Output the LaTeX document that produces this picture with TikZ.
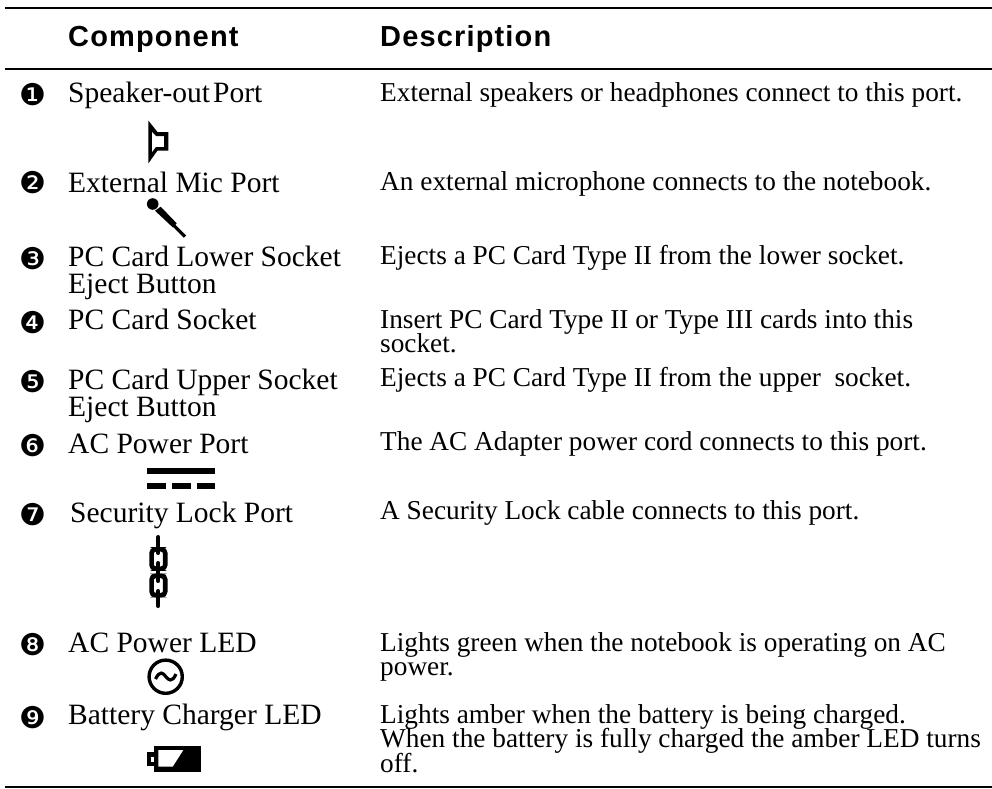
\documentclass[tikz,border=0pt]{standalone}
\usepackage{fontspec}
\setmainfont{Liberation Serif}
\newfontfamily\headfont[LetterSpace=4]{Liberation Sans}
\newfontfamily\numfont{DejaVu Sans}
\tikzset{
 x=1pt,y=-1pt,
 txt/.style={anchor=base west,inner sep=0pt,font=\fontsize{29.5}{30}\selectfont},
 dsc/.style={anchor=base west,inner sep=0pt,font=\fontsize{27.3}{30}\selectfont},
 head/.style={anchor=base west,inner sep=0pt,font=\headfont\bfseries\fontsize{29}{32}\selectfont},
 num/.style={anchor=center,inner sep=0pt,font=\numfont\fontsize{30}{32}\selectfont},
 rulel/.style={line width=2pt,black},
 chainl/.style={line width=4pt,black,line cap=round},
 chainc/.style={line width=4.6pt,black,rounded corners=3.5pt},
}
\begin{document}
\begin{tikzpicture}
\useasboundingbox (0,0) rectangle (992,788);
\fill[white] (0,0) rectangle (992,788);
\draw[rulel] (5,8) -- (992,8);
\draw[rulel] (5,68.5) -- (992,68.5);
\draw[rulel] (5,787) -- (992,787);
\node[head] (hc) at (68,46.7) {Component};
\node[head] (hd) at (380,46.7) {Description};
% numbers
\node[num] (n1) at (33,95) {❶};
\node[num] (n2) at (33,183) {❷};
\node[num] (n3) at (33,259) {❸};
\node[num] (n4) at (33,323) {❹};
\node[num] (n5) at (33,382) {❺};
\node[num] (n6) at (33,446) {❻};
\node[num] (n7) at (33,515) {❼};
\node[num] (n8) at (33,645) {❽};
\node[num] (n9) at (33,718) {❾};
% components
\node[txt] (c1) at (68,102) {Speaker-out\hspace{3pt}Port};
\node[txt] (c2) at (68,192) {External Mic Port};
\node[txt] (c3) at (68,266) {PC Card Lower Socket};
\node[txt] (c3b) at (68,293.5) {Eject Button};
\node[txt] (c4) at (68,329) {PC Card Socket};
\node[txt] (c5) at (68,389) {PC Card Upper Socket};
\node[txt] (c5b) at (68,416) {Eject Button};
\node[txt] (c6) at (68,453) {AC Power Port};
\node[txt] (c7) at (70,522) {Security Lock Port};
\node[txt] (c8) at (68,652) {AC Power LED};
\node[txt] (c9) at (68,724) {Battery Charger LED};
% descriptions
\node[dsc] (d1) at (380,101) {External speakers or headphones connect to this port.};
\node[dsc] (d2) at (380,190) {An external microphone connects to the notebook.};
\node[dsc] (d3) at (380,264) {Ejects a PC Card Type II from the lower socket.};
\node[dsc] (d4) at (380,328) {Insert PC Card Type II or Type III cards into this};
\node[dsc] (d4b) at (380,352.7) {socket.};
\node[dsc] (d5) at (380,386.7) {Ejects a PC Card Type II from the upper\hspace{13.5pt}socket.};
\node[dsc] (d6) at (380,450.7) {The AC Adapter power cord connects to this port.};
\node[dsc] (d7) at (380,519.3) {A Security Lock cable connects to this port.};
\node[dsc] (d8) at (380,651) {Lights green when the notebook is operating on AC};
\node[dsc] (d8b) at (380,675.3) {power.};
\node[dsc] (d9) at (380,723.3) {Lights amber when the battery is being charged.};
\node[dsc] (d9b) at (380,747.7) {When the battery is fully charged the amber LED turns};
\node[dsc] (d9c) at (380,772) {off.};
% speaker icon
\fill[black,even odd rule] (148.3,120.5) -- (157.5,132) -- (168.3,132) -- (168.3,150.5) -- (157.5,150.5) -- (148.3,163.5) -- cycle
  (151.8,131.5) -- (156,136) -- (164,136) -- (164,147) -- (156,147) -- (151.8,152.5) -- cycle;
% microphone icon
\fill[black] (152.7,204) circle (5.8);
\fill[black] (155,210.7) -- (160.7,206.7) -- (176.7,223.3) -- (172.7,227.3) -- cycle;
\draw[line width=3.2pt,black] (174,225.5) -- (185,236.7);
% DC icon
\fill[black] (146.7,468.3) rectangle (215.3,474.3);
\fill[black] (146.7,482.7) rectangle (166,488.7);
\fill[black] (172,482.7) rectangle (191.3,488.7);
\fill[black] (197,482.7) rectangle (215.3,488.7);
% chain icon
\draw[chainl] (158.3,537) -- (158.3,553);
\draw[chainl] (158.3,563) -- (158.3,581);
\draw[chainl] (158.3,591) -- (158.3,606);
\draw[chainc] (154.6,549.5) -- (151.6,549.5) -- (151.6,568.5) -- (154.6,568.5);
\draw[chainc] (162,549.5) -- (165.2,549.5) -- (165.2,568.5) -- (162,568.5);
\draw[chainc] (154.6,576) -- (151.6,576) -- (151.6,595) -- (154.6,595);
\draw[chainc] (162,576) -- (165.2,576) -- (165.2,595) -- (162,595);
% AC LED icon
\draw[line width=3.4pt,black] (165.7,676.7) circle (16.6);
\draw[line width=3.2pt,black] (155.5,679) .. controls (160,670) and (163,673) .. (165.7,676.5) .. controls (168.5,680) and (172,683) .. (176,674);
% battery icon
\fill[black] (154.3,746) rectangle (201,771.7);
\fill[black] (146.7,752.3) rectangle (155,765.7);
\fill[white] (150.7,756.5) rectangle (154.3,761.5);
\fill[white] (158.3,750) -- (183.3,750) -- (172.7,766.7) -- (158.3,766.7) -- cycle;
\end{tikzpicture}
\end{document}
